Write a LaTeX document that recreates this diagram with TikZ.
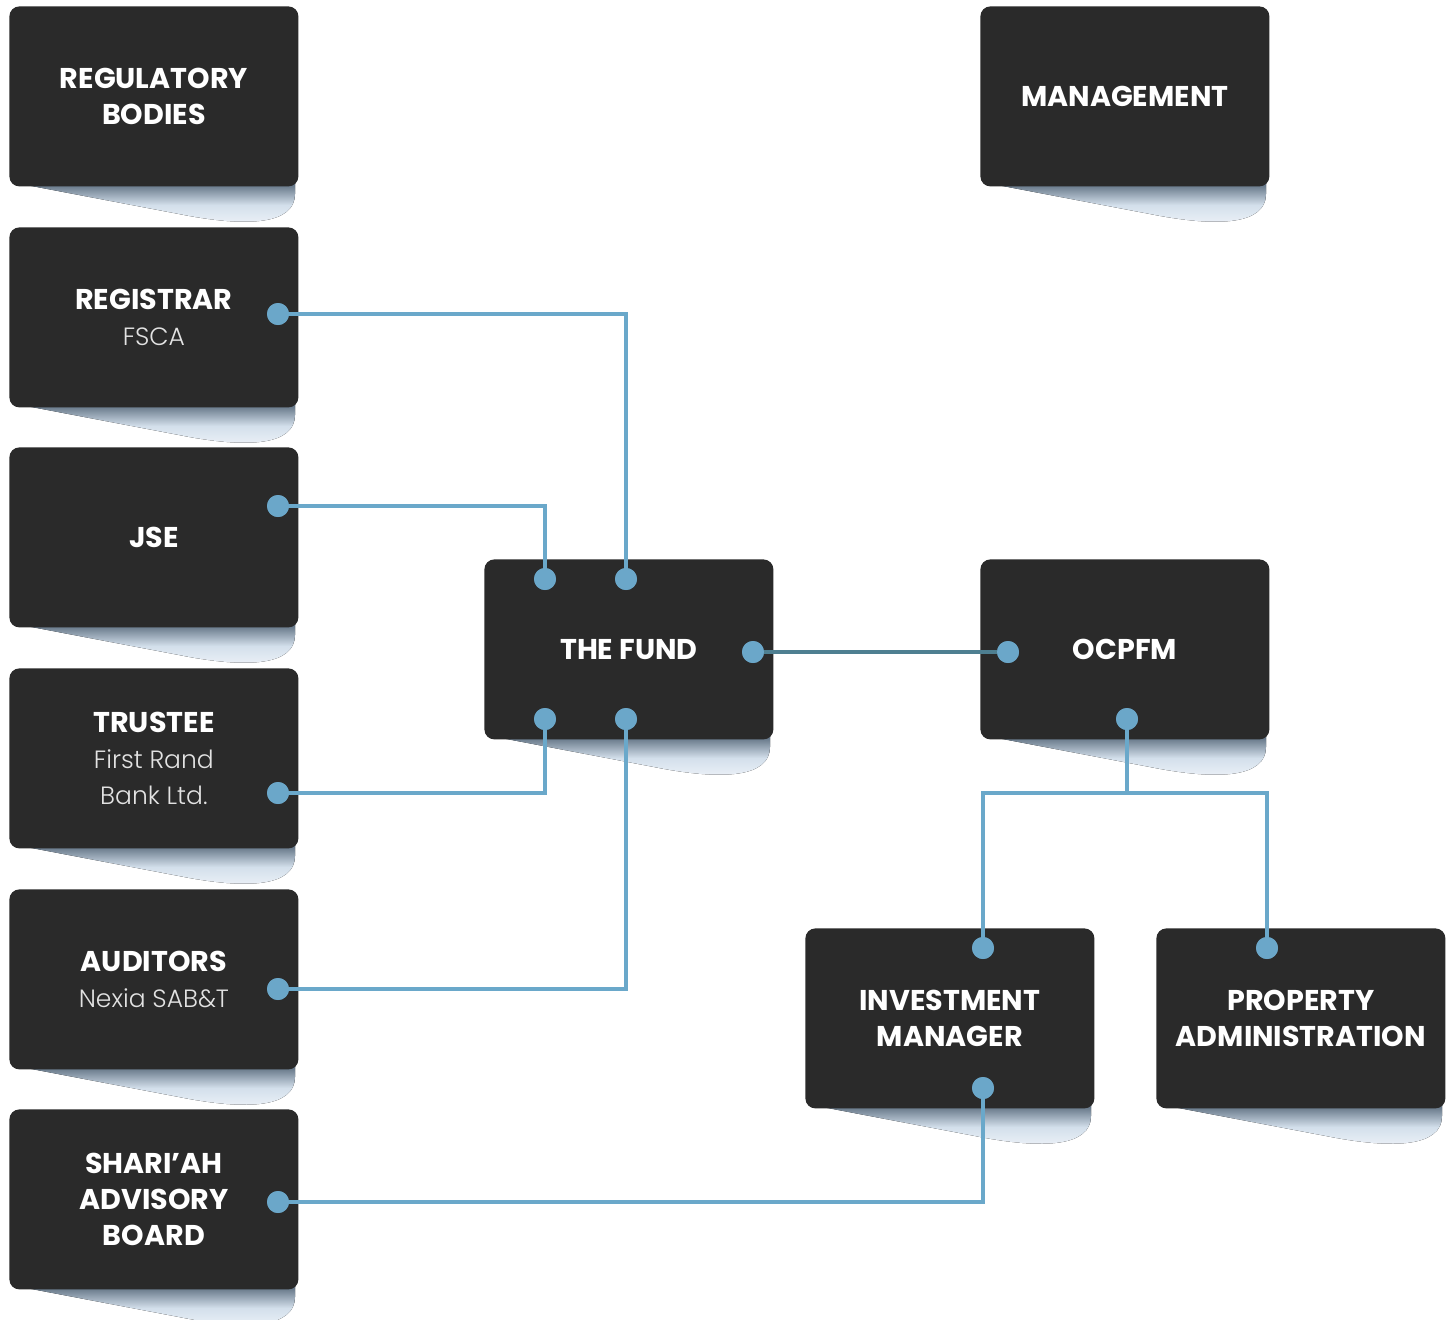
\documentclass[tikz,border=0pt]{standalone}
\usepackage{fontspec}
\setmainfont{Poppins}
\newfontfamily\lightf{Poppins Light}
\usetikzlibrary{calc}
\definecolor{boxc}{HTML}{2A2A2A}
\definecolor{linec}{HTML}{6AA8CA}
\definecolor{dotc}{HTML}{6BA7C9}
\definecolor{darkline}{HTML}{4E7F91}
\definecolor{shtop}{HTML}{56687A}
\definecolor{shmid}{HTML}{D3DFEB}
\definecolor{shbot}{HTML}{F1F5FA}
\definecolor{subc}{HTML}{E2E2E2}
\tikzset{
  boxst/.style={fill=boxc, rounded corners=5pt, minimum width=144.5pt, minimum height=90pt,
    inner sep=0pt, text=white, align=center, font=\fontsize{14.3}{18}\selectfont\bfseries},
  dotst/.style={circle, fill=dotc, minimum size=11pt, inner sep=0pt},
  conn/.style={draw=linec, line width=2.3pt},
  darkconn/.style={draw=darkline, line width=2.3pt},
  shadowst/.style={top color=shtop, bottom color=shbot, middle color=shmid},
}
\newcommand{\sub}[1]{{\lightf\mdseries\fontsize{12.5}{18}\selectfont\color{subc}#1}}
\newcommand{\mybox}[4]{%
  \fill[shadowst]
    ({#2+12},{#3+178}) -- ({#2+170},{#3+208})
    .. controls ({#2+240},{#3+222}) and ({#2+286},{#3+218}) .. ({#2+286},{#3+188})
    -- ({#2+286},{#3+176}) -- cycle;
  \node[boxst, anchor=north west] (#1) at (#2,#3) {#4};
}
\begin{document}
\begin{tikzpicture}[x=0.5pt,y=-0.5pt]
\useasboundingbox[fill=white] (0,0) rectangle (1453,1319);
% boxes
\mybox{reg}{9}{6}{REGULATORY\\BODIES}
\mybox{regis}{9}{227}{REGISTRAR\\\sub{FSCA}}
\mybox{jse}{9}{447}{JSE}
\mybox{trus}{9}{668}{TRUSTEE\\\sub{First Rand}\\\sub{Bank Ltd.}}
\mybox{aud}{9}{889}{AUDITORS\\\sub{Nexia SAB\&T}}
\mybox{shar}{9}{1109}{SHARI’AH\\ADVISORY\\BOARD}
\mybox{mgmt}{980}{6}{MANAGEMENT}
\mybox{fund}{484}{559}{THE FUND}
\mybox{ocp}{980}{559}{OCPFM}
\mybox{inv}{805}{928}{INVESTMENT\\MANAGER}
\mybox{prop}{1156}{928}{PROPERTY\\ADMINISTRATION}
% dots
\node[dotst] (dRegis) at (278,314) {};
\node[dotst] (dJse) at (278,506) {};
\node[dotst] (dTrus) at (278,793) {};
\node[dotst] (dAud) at (278,989) {};
\node[dotst] (dShar) at (278,1202) {};
\node[dotst] (fTL) at (545,579) {};
\node[dotst] (fTR) at (626,579) {};
\node[dotst] (fBL) at (545,719) {};
\node[dotst] (fBR) at (626,719) {};
\node[dotst] (fR) at (753,652) {};
\node[dotst] (oL) at (1008,652) {};
\node[dotst] (oB) at (1127,719) {};
\node[dotst] (iT) at (983,948) {};
\node[dotst] (iB) at (983,1088) {};
\node[dotst] (pT) at (1267,948) {};
\coordinate (split) at (1127,793);
% connectors
\draw[conn] (dRegis.center) -| (fTR.center);
\draw[conn] (dJse.center) -| (fTL.center);
\draw[conn] (dTrus.center) -| (fBL.center);
\draw[conn] (dAud.center) -| (fBR.center);
\draw[conn] (dShar.center) -| (iB.center);
\draw[darkconn] (fR.center) -- (oL.center);
\draw[conn] (oB.center) -- (split) -| (iT.center);
\draw[conn] (split) -| (pT.center);
% redraw dots on top
\foreach \d in {dRegis,dJse,dTrus,dAud,dShar,fTL,fTR,fBL,fBR,fR,oL,oB,iT,iB,pT}
  \fill[dotc] (\d) circle (5.5pt);
\end{tikzpicture}
\end{document}
